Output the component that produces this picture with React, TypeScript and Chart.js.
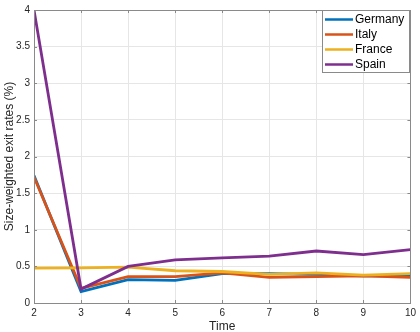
import React, { useEffect, useRef } from "react";
import { Chart, registerables } from "chart.js";

Chart.register(...registerables);

const times = [2, 3, 4, 5, 6, 7, 8, 9, 10];
const germany = [1.74, 0.155, 0.32, 0.31, 0.40, 0.40, 0.39, 0.37, 0.37];
const italy = [1.72, 0.20, 0.36, 0.36, 0.41, 0.35, 0.36, 0.37, 0.35];
const france = [0.475, 0.48, 0.49, 0.44, 0.43, 0.39, 0.41, 0.38, 0.40];
const spain = [4.0, 0.19, 0.50, 0.59, 0.615, 0.64, 0.71, 0.66, 0.73];
const seriesNames = ["Germany", "Italy", "France", "Spain"];
const seriesColors = ["#0072BD", "#D95319", "#EDB120", "#7E2F8E"];
const xTicks = [2, 3, 4, 5, 6, 7, 8, 9, 10];
const yTicks = [0, 0.5, 1, 1.5, 2, 2.5, 3, 3.5, 4];

const FONT = "'Liberation Sans', Arial, Helvetica, sans-serif";
const TEXT = "#262626";
const AXIS = "#8a8a8a";

const boxPlugin = {
  id: "matlabBox",
  afterDraw(chart: any) {
    const { ctx, chartArea } = chart;
    const { left, right, top, bottom } = chartArea;
    const xs = chart.scales.x;
    const ys = chart.scales.y;
    ctx.save();
    ctx.strokeStyle = AXIS;
    ctx.lineWidth = 1;
    ctx.beginPath();
    const tl = 3;
    xTicks.forEach((v) => {
      const px = Math.round(xs.getPixelForValue(v)) + 0.5;
      ctx.moveTo(px, bottom);
      ctx.lineTo(px, bottom - tl);
      ctx.moveTo(px, top);
      ctx.lineTo(px, top + tl);
    });
    yTicks.forEach((v) => {
      const py = Math.round(ys.getPixelForValue(v)) + 0.5;
      ctx.moveTo(left, py);
      ctx.lineTo(left + tl, py);
      ctx.moveTo(right, py);
      ctx.lineTo(right - tl, py);
    });
    ctx.stroke();
    ctx.strokeRect(Math.round(left) + 0.5, Math.round(top) + 0.5, Math.round(right - left), Math.round(bottom - top));

    // legend
    const lx = 322.5, ly = 10.5, lw = 87, lh = 62;
    ctx.fillStyle = "#ffffff";
    ctx.fillRect(lx, ly, lw, lh);
    ctx.strokeStyle = "#8a8a8a";
    ctx.strokeRect(lx, ly, lw, lh);
    ctx.font = `12px ${FONT}`;
    ctx.textBaseline = "middle";
    ctx.textAlign = "left";
    chart.data.datasets.forEach((ds: any, i: number) => {
      const y = 19.5 + i * 15;
      ctx.strokeStyle = ds.borderColor;
      ctx.lineWidth = 2.5;
      ctx.beginPath();
      ctx.moveTo(325, y);
      ctx.lineTo(353, y);
      ctx.stroke();
      ctx.fillStyle = "#000";
      ctx.fillText(ds.label, 355, y + 0.5);
    });
    ctx.restore();
  },
};

export default function App() {
  const ref = useRef<HTMLCanvasElement>(null);
  useEffect(() => {
    if (!ref.current) return;
    const all = [germany, italy, france, spain];
    const chart = new Chart(ref.current, {
      type: "line",
      data: {
        datasets: all.map((vals, i) => ({
          label: seriesNames[i],
          data: times.map((t, j) => ({ x: t, y: vals[j] })),
          borderColor: seriesColors[i],
          backgroundColor: seriesColors[i],
          borderWidth: 2.8,
          pointRadius: 0,
          tension: 0,
          order: 4 - i,
        })),
      },
      options: {
        animation: false,
        responsive: false,
        maintainAspectRatio: false,
        layout: { padding: { top: 4, right: 5, left: 0, bottom: 0 } },
        plugins: { legend: { display: false }, tooltip: { enabled: false } },
        scales: {
          x: {
            type: "linear",
            min: 2,
            max: 10,
            afterBuildTicks: (s: any) => {
              s.ticks = xTicks.map((v) => ({ value: v }));
            },
            grid: { color: "#e6e6e6", drawTicks: false },
            border: { display: false },
            ticks: { color: TEXT, font: { size: 10, family: FONT }, padding: 4, maxRotation: 0, callback: (v: any) => String(v) },
            title: { display: true, text: "Time", color: TEXT, font: { size: 12, family: FONT }, padding: { top: 0, bottom: -2 } },
            afterFit: (s: any) => {
              s.height = 29;
            },
          },
          y: {
            type: "linear",
            min: 0,
            max: 4,
            afterBuildTicks: (s: any) => {
              s.ticks = yTicks.map((v) => ({ value: v }));
            },
            grid: { color: "#e6e6e6", drawTicks: false },
            border: { display: false },
            ticks: { color: TEXT, font: { size: 10, family: FONT }, padding: 4, callback: (v: any) => String(v) },
            title: { display: true, text: "Size-weighted exit rates (%)", color: TEXT, font: { size: 12, family: FONT }, padding: { top: 2, bottom: 0 } },
            afterFit: (s: any) => {
              s.width = 34;
            },
          },
        },
      },
      plugins: [boxPlugin],
    });
    return () => chart.destroy();
  }, []);
  return (
    <div style={{ position: "fixed", left: 0, top: 0, width: 420, height: 332, background: "#fff" }}>
      <canvas ref={ref} width={420} height={332} style={{ width: 420, height: 332 }} />
    </div>
  );
}
